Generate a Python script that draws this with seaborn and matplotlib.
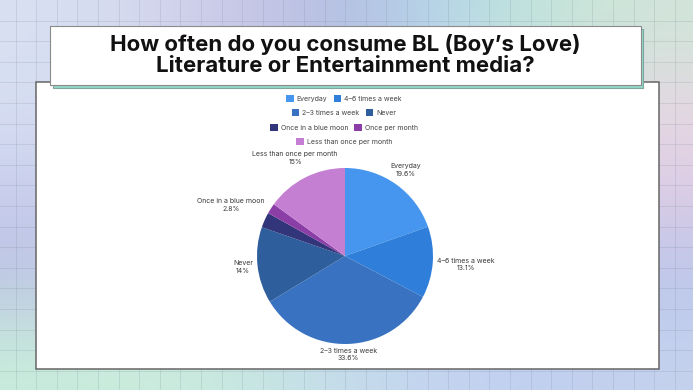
import numpy as np
import matplotlib
matplotlib.use('Agg')
import matplotlib.pyplot as plt
import seaborn as sns
from matplotlib.patches import Rectangle, Patch
from matplotlib.colors import to_rgb

# Data
categories = ['Everyday', '4–6 times a week', '2–3 times a week', 'Never',
              'Once in a blue moon', 'Once per month', 'Less than once per month']
shares = [19.6, 13.1, 33.6, 14.0, 2.8, 1.9, 15.0]
colors = ['#4695ee', '#2f7fda', '#3872c1', '#2e5e9c', '#323579', '#8b3ea6', '#c57fd2']
legend_rows = [[0, 1], [2, 3], [4, 5], [6]]
title = "How often do you consume BL (Boy’s Love)\nLiterature or Entertainment media?"

sns.set_theme(style='white')
plt.rcParams['font.family'] = ['Inter', 'DejaVu Sans']

W, H = 693, 390
fig = plt.figure(figsize=(W / 100, H / 100), dpi=100)

# Background: pastel gradient with a faint grid
bg = fig.add_axes([0, 0, 1, 1])
ctrl = [
    ['#d8e0f2', '#d4d8ee', '#c8c6e6', '#b2bee2', '#b6d8ea', '#c2e6d8', '#d2e4da'],
    ['#d6def2', '#d2d6ee', '#cccaea', '#c0c4e6', '#d0d8ec', '#e0dce6', '#e8d6e2'],
    ['#c8ceec', '#c8cceb', '#c8c8e8', '#c8cce8', '#d0cce8', '#d8cce6', '#dccce6'],
    ['#bcc2e4', '#c0cae6', '#c4d0e8', '#c4d0ea', '#c0c8ea', '#bcc4ea', '#bcc6ea'],
    ['#c8ecdc', '#cceedc', '#c8e8e0', '#c4dcec', '#c4d4f0', '#c2d0f0', '#c4d2ee'],
]
grad = np.array([[to_rgb(c) for c in row] for row in ctrl])
bg.imshow(grad, extent=[0, W, H, 0], aspect='auto', interpolation='bicubic', zorder=0)
for x in np.arange(15.5, W, 20.6):
    bg.axvline(x, color='#6e7f90', lw=0.7, alpha=0.18, zorder=1)
for y in np.arange(20.6, H, 20.6):
    bg.axhline(y, color='#6e7f90', lw=0.7, alpha=0.18, zorder=1)

# White card, title box with teal shadow
bg.add_patch(Rectangle((36, 82), 623, 287, fc='white', ec='#666666', lw=1.1, zorder=3))
bg.add_patch(Rectangle((52.5, 28.5), 590, 59, fc='#93d8ca', ec='#7fa7a0', lw=0.8, zorder=4))
bg.add_patch(Rectangle((50, 26), 591, 59, fc='white', ec='#8a8a8a', lw=0.8, zorder=5))
bg.text(345.5, 55, title, ha='center', va='center', fontsize=16, fontweight='bold',
        color='#111111', linespacing=1.02, zorder=6)
bg.set_xlim(0, W)
bg.set_ylim(H, 0)
bg.axis('off')

# Pie
cx, cy, r = 345, 256, 88
ax = fig.add_axes([(cx - r) / W, 1 - (cy + r) / H, 2 * r / W, 2 * r / H])
wedges, _ = ax.pie(shares, colors=colors, startangle=90, counterclock=False,
                   radius=1, wedgeprops=dict(linewidth=0))
ax.set_xlim(-1, 1)
ax.set_ylim(-1, 1)
ax.set_aspect('equal')
ax.axis('off')

# Slice labels: centred on the mid-angle ray, pushed just outside the pie
fig.canvas.draw()
renderer = fig.canvas.get_renderer()
c_disp = ax.transData.transform((0, 0))
r_disp = ax.transData.transform((1, 0))[0] - c_disp[0]
for w, name, v in zip(wedges, categories, shares):
    if v < 2.5:
        continue
    t = ax.text(0, 0, f"{name}\n{v:g}%", ha='center', va='center', fontsize=5,
                color='#3a3a3a', linespacing=1.25, clip_on=False)
    bb = t.get_window_extent(renderer)
    hw, hh = bb.width / 2, bb.height / 2
    ang = np.deg2rad((w.theta1 + w.theta2) / 2)
    u = np.array([np.cos(ang), np.sin(ang)])
    d = 0.0
    while True:
        px, py = d * u
        nx = min(max(0, px - hw), px + hw)
        ny = min(max(0, py - hh), py + hh)
        if np.hypot(nx, ny) >= r_disp * 1.04:
            break
        d += 0.5
    pos = ax.transData.inverted().transform(c_disp + d * u)
    t.set_position(pos)

# Legend: centred rows like the original
row_y = [98.3, 112.5, 127.5, 141.5]
for idx, yy in zip(legend_rows, row_y):
    handles = [Patch(fc=colors[i], ec='none') for i in idx]
    labels = [categories[i] for i in idx]
    fig.legend(handles, labels, loc='center', bbox_to_anchor=(344 / W, 1 - yy / H),
               ncol=len(idx), frameon=False, fontsize=5, handlelength=1.1,
               handleheight=1.1, handletextpad=0.45, columnspacing=0.9,
               borderpad=0, labelcolor='#444444')

fig.savefig('out.png', dpi=100)
